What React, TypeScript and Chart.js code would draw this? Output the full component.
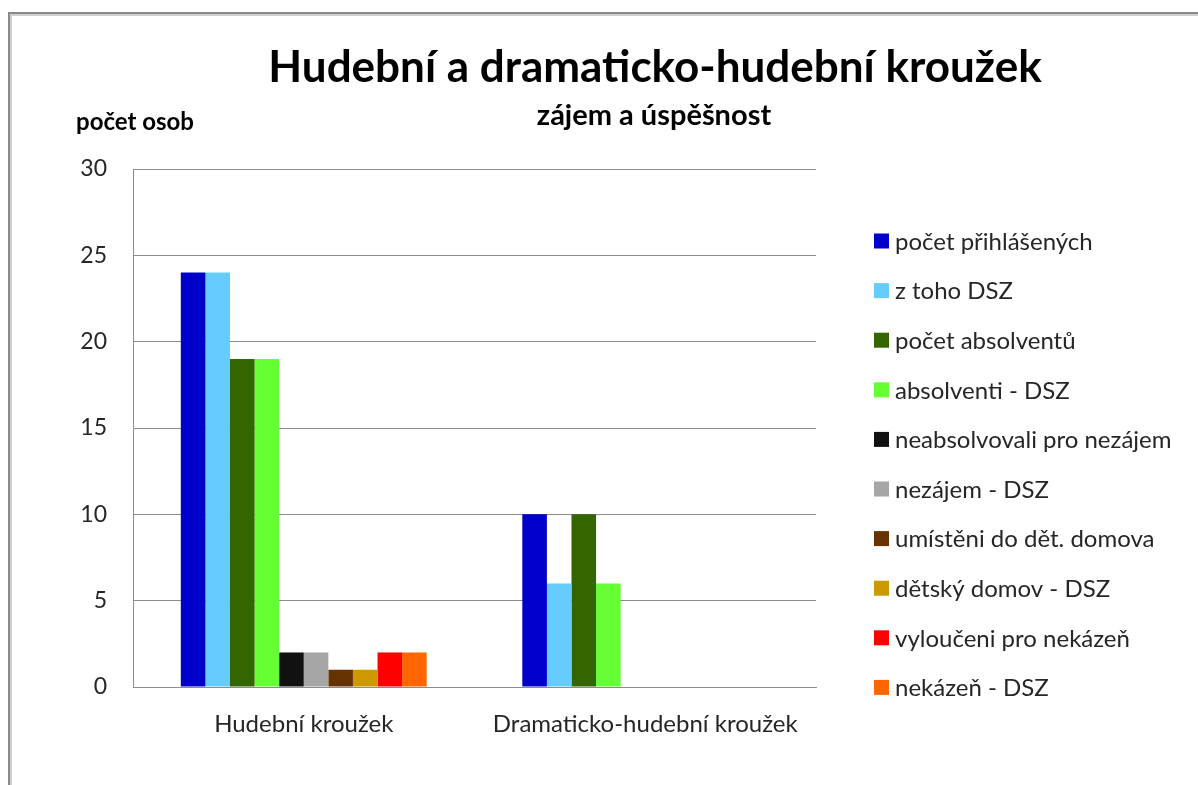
import React, { useEffect, useRef } from "react";
import { Chart, registerables } from "chart.js";

Chart.register(...registerables);

// ---- data ----
const categories = ["Hudební kroužek", "Dramaticko-hudební kroužek"];
const seriesNames = [
  "počet přihlášených",
  "z toho DSZ",
  "počet absolventů",
  "absolventi - DSZ",
  "neabsolvovali pro nezájem",
  "nezájem - DSZ",
  "umístěni do dět. domova",
  "dětský domov - DSZ",
  "vyloučeni pro nekázeň",
  "nekázeň - DSZ",
];
const prihlaseni = [24, 10];
const zTohoDSZ = [24, 6];
const absolventi = [19, 10];
const absolventiDSZ = [19, 6];
const nezajem = [2, 0];
const nezajemDSZ = [2, 0];
const umisteni = [1, 0];
const domovDSZ = [1, 0];
const vylouceni = [2, 0];
const nekazenDSZ = [2, 0];
const seriesValues = [
  prihlaseni,
  zTohoDSZ,
  absolventi,
  absolventiDSZ,
  nezajem,
  nezajemDSZ,
  umisteni,
  domovDSZ,
  vylouceni,
  nekazenDSZ,
];
const seriesColors = [
  "#0000CC",
  "#66CCFF",
  "#336600",
  "#66FF33",
  "#111111",
  "#A6A6A6",
  "#663300",
  "#CC9900",
  "#FF0000",
  "#FF6600",
];
const yMin = 0;
const yMax = 30;
const yStep = 5;
const titleText = "Hudební a dramaticko-hudební kroužek";
const subtitleText = "zájem a úspěšnost";
const yAxisLabel = "počet osob";

const FONT = "Lato, 'Open Sans', sans-serif";
const GRID = "#8c8c8c";
const TEXT = "#262626";

const decorPlugin = {
  id: "decor",
  beforeDraw(chart: any) {
    const ctx = chart.ctx;
    ctx.save();
    ctx.fillStyle = "#ffffff";
    ctx.fillRect(0, 0, chart.width, chart.height);
    ctx.strokeStyle = "#d0d0d0";
    ctx.lineWidth = 2;
    ctx.strokeRect(11, 15, chart.width + 20, chart.height + 20);
    ctx.strokeStyle = "#8a8a8a";
    ctx.lineWidth = 2;
    ctx.strokeRect(9, 13, chart.width + 20, chart.height + 20);
    ctx.restore();
  },
  afterDraw(chart: any) {
    const ctx = chart.ctx;
    ctx.save();
    ctx.fillStyle = "#000000";
    ctx.textBaseline = "alphabetic";
    ctx.textAlign = "center";
    ctx.font = `bold 44px ${FONT}`;
    ctx.fillText(titleText, 655, 82);
    ctx.font = `bold 29px ${FONT}`;
    ctx.fillText(subtitleText, 654, 125);
    ctx.textAlign = "left";
    ctx.font = `bold 24px ${FONT}`;
    ctx.fillText(yAxisLabel, 76, 130);

    // legend
    ctx.font = `24px ${FONT}`;
    ctx.textBaseline = "middle";
    const legendTop = 241;
    const legendStep = 49.6;
    chart.data.datasets.forEach((ds: any, i: number) => {
      const cy = legendTop + i * legendStep;
      ctx.fillStyle = ds.backgroundColor;
      ctx.fillRect(874, cy - 7.5, 15, 15);
      ctx.fillStyle = TEXT;
      ctx.fillText(ds.label, 895, cy + 1);
    });
    ctx.restore();
  },
};

export default function App() {
  const ref = useRef<HTMLCanvasElement | null>(null);
  useEffect(() => {
    if (!ref.current) return;
    const chart = new Chart(ref.current, {
      type: "bar",
      data: {
        labels: categories,
        datasets: seriesNames.map((name, i) => ({
          label: name,
          data: seriesValues[i],
          backgroundColor: seriesColors[i],
          borderWidth: 0,
          categoryPercentage: 0.72,
          barPercentage: 1,
        })),
      },
      options: {
        responsive: false,
        animation: false,
        layout: { padding: { top: 169, right: 382, bottom: 0, left: 0 } },
        plugins: {
          legend: { display: false },
          title: { display: false },
          tooltip: { enabled: false },
        },
        scales: {
          x: {
            grid: { display: false },
            border: { display: true, color: GRID, width: 1 },
            ticks: {
              color: TEXT,
              font: { family: FONT, size: 24 },
              padding: 15,
              maxRotation: 0,
            },
            afterFit(scale: any) {
              scale.height = 98;
            },
          },
          y: {
            min: yMin,
            max: yMax,
            ticks: {
              stepSize: yStep,
              color: TEXT,
              font: { family: FONT, size: 23 },
              padding: 26,
            },
            grid: { color: GRID, lineWidth: 1, drawTicks: false },
            border: { display: true, color: GRID, width: 1 },
            afterFit(scale: any) {
              scale.width = 133;
            },
          },
        },
      },
      plugins: [decorPlugin],
    });
    return () => chart.destroy();
  }, []);
  return (
    <canvas
      ref={ref}
      width={1198}
      height={785}
      style={{ position: "absolute", left: 0, top: 0, width: 1198, height: 785 }}
    />
  );
}
